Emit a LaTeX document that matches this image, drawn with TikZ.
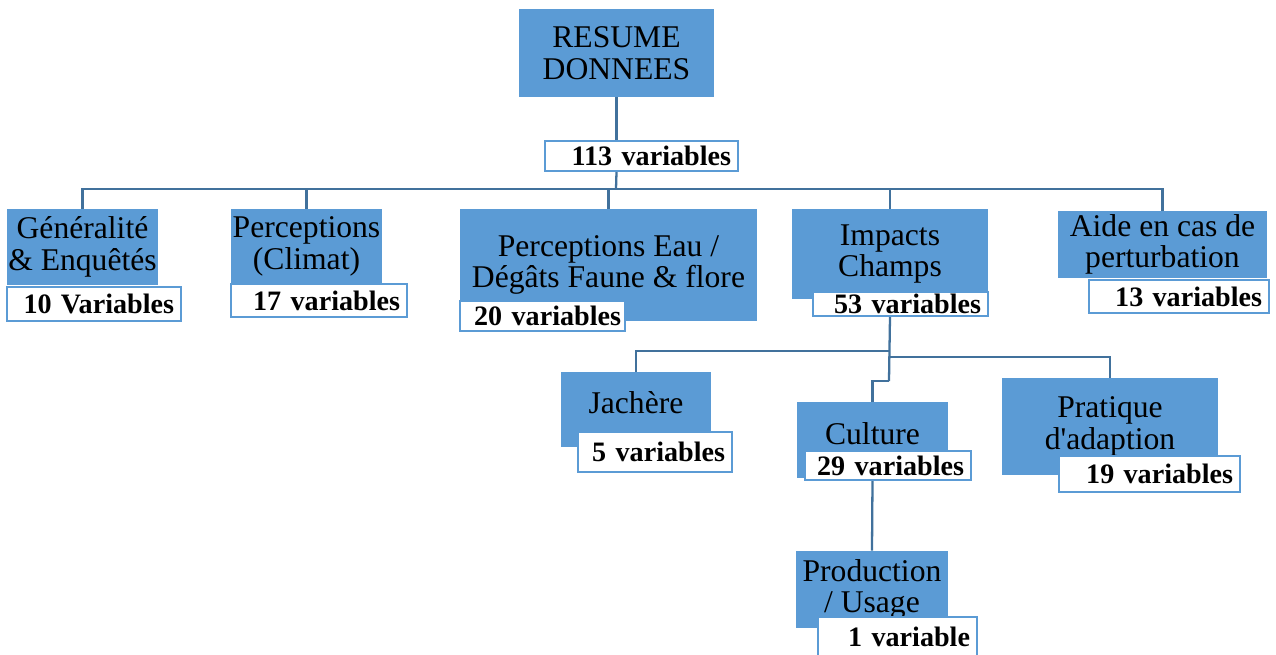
\documentclass[tikz,border=0pt]{standalone}
\usepackage{fontspec}
\setmainfont{Liberation Serif}
\usepackage{tikz}
\usetikzlibrary{positioning,calc}
\definecolor{boxblue}{RGB}{91,155,213}
\definecolor{lineblue}{RGB}{65,113,156}
\tikzset{
  topic/.style = {fill=boxblue, inner sep=0pt, align=center, font=\fontsize{18}{18}\selectfont},
  count/.style = {draw=boxblue, line width=1.2pt, fill=white, align=right, inner xsep=0.14cm, inner ysep=0pt, font=\fontsize{16}{18}\selectfont\bfseries},
  link/.style  = {draw=lineblue, line width=1.3pt},
}
\begin{document}
\begin{tikzpicture}[x=0.02cm, y=-0.02cm]
\useasboundingbox (0,0) rectangle (1276,655);

% root
\node[topic, minimum width=3.9cm, minimum height=1.76cm] (resume) at (616.5,53) {RESUME\\DONNEES};
\node[count, text width=3.58cm, minimum height=0.6cm] (total) at (641.5,156) {113 variables};

% level 1
\node[topic, minimum width=3.02cm, minimum height=1.52cm] (gen) at (82.5,247) {Généralité\\\& Enquêtés};
\node[topic, minimum width=3.02cm, minimum height=1.5cm] (clim) at (306.5,246.5) {Perceptions\\(Climat)};
\node[topic, minimum width=5.94cm, minimum height=2.24cm] (eau) at (608.5,265) {Perceptions Eau /\\Dégâts Faune \& flore};
\node[topic, minimum width=3.92cm, minimum height=1.8cm] (champs) at (890,254) {Impacts\\Champs};
\node[topic, minimum width=4.18cm, minimum height=1.34cm] (aide) at (1162.5,244.5) {Aide en cas de\\perturbation};

\node[count, text width=3.2cm, minimum height=0.68cm] (genN) at (94,304) {10 Variables};
\node[count, text width=3.24cm, minimum height=0.66cm] (climN) at (319,300.5) {17 variables};
\node[count, text width=3.14cm, inner xsep=0.08cm, minimum height=0.6cm] (eauN) at (542.5,316) {20 variables};
\node[count, text width=3.22cm, minimum height=0.48cm] (champsN) at (900.5,304) {53 variables};
\node[count, text width=3.32cm, minimum height=0.66cm] (aideN) at (1179,296.5) {13 variables};

% level 2 (under Impacts Champs)
\node[topic, minimum width=3.0cm, minimum height=1.5cm, text depth=8.5pt] (jach) at (636,409.5) {Jachère};
\node[topic, minimum width=3.02cm, minimum height=1.52cm, text depth=7pt] (cult) at (872.5,440) {Culture};
\node[topic, minimum width=4.32cm, minimum height=1.94cm] (prat) at (1110,426.5) {Pratique\\d\textquotesingle adaption};

\node[count, text width=2.8cm, minimum height=0.8cm] (jachN) at (655,452) {5 variables};
\node[count, text width=3.04cm, minimum height=0.58cm] (cultN) at (888,465.5) {29 variables};
\node[count, text width=3.34cm, minimum height=0.72cm] (pratN) at (1149.5,474) {19 variables};

% level 3
\node[topic, minimum width=3.04cm, minimum height=1.54cm] (prod) at (872,589.5) {Production\\/ Usage};
\node[count, text width=2.9cm, minimum height=0.8cm] (prodN) at (897.5,637) {1 variable};

% connectors
\coordinate (hub) at (616,189);
\draw[link] (resume.south) -- (resume.south |- total.north);
\draw[link] (resume.south |- total.south) -- (hub);
\draw[link] (hub) -| (gen.north);
\draw[link] (hub) -| (clim.north);
\draw[link] (hub) -| (eau.north);
\draw[link] (hub) -| (champs.north);
\draw[link] (hub) -| (aide.north);

\coordinate (jk) at (889,351);
\coordinate (pk) at (889,357);
\coordinate (ck) at (889,381);
\draw[link] (champs.south |- champsN.south) -- (ck);
\draw[link] (jk) -| (jach.north);
\draw[link] (pk) -| (prat.north);
\draw[link] (ck) -| (cult.north);
\draw[link] (cult.south |- cultN.south) -- (prod.north);

\end{tikzpicture}
\end{document}
